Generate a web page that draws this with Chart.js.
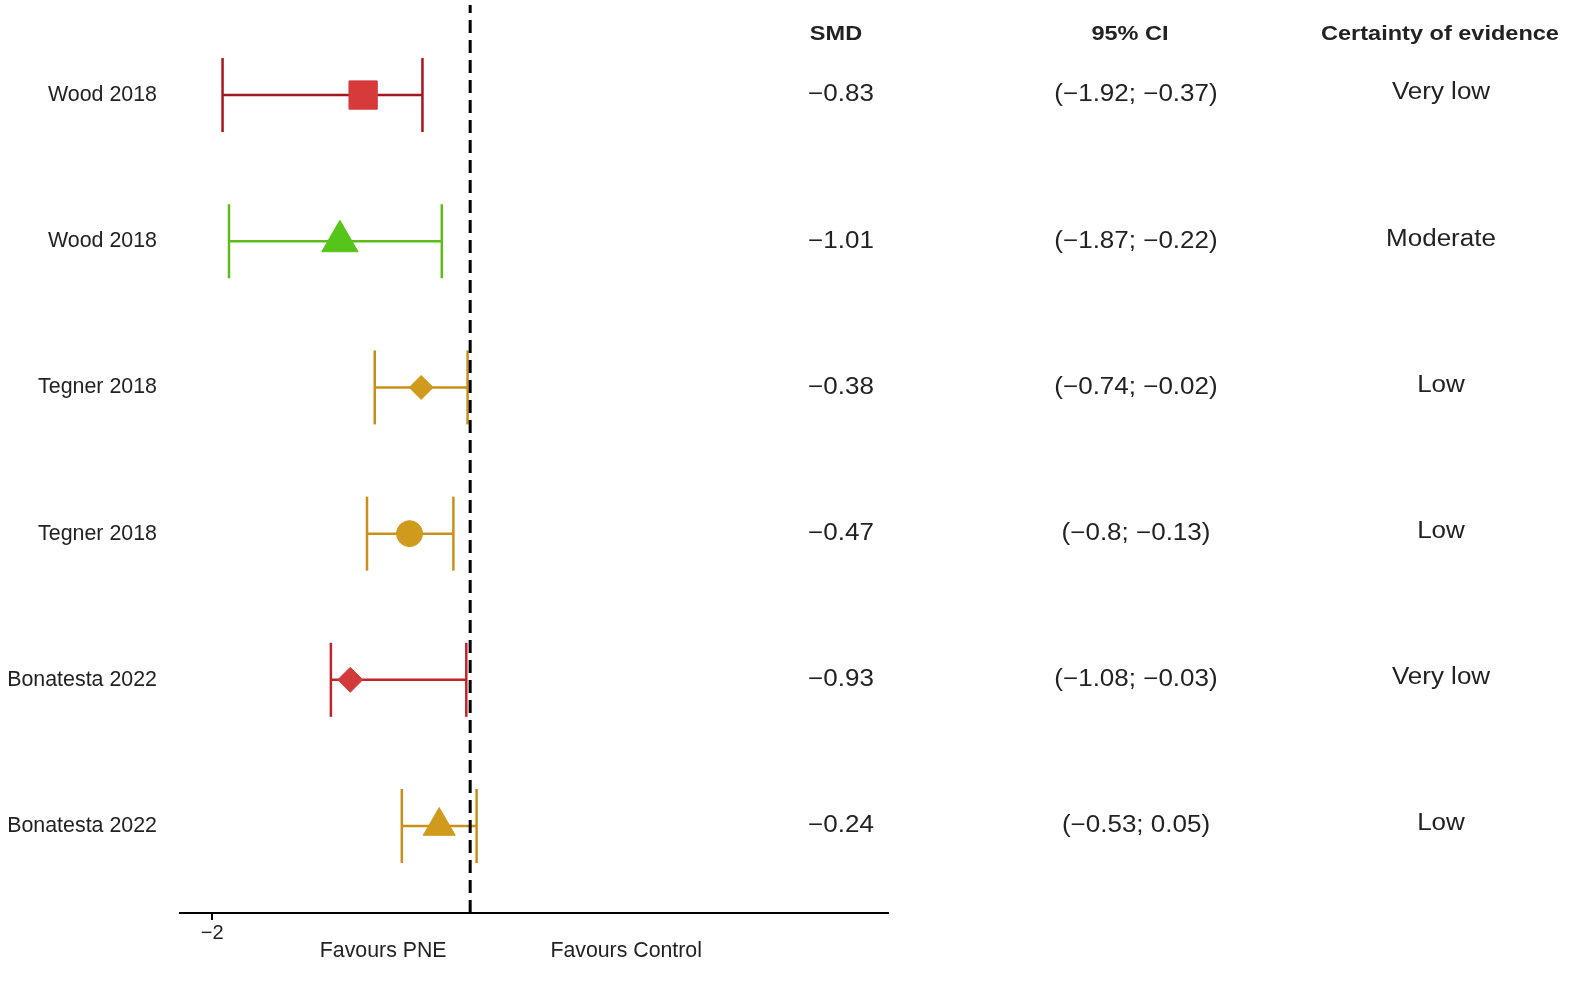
<!DOCTYPE html>
<html>
<head>
<meta charset="utf-8">
<script src="https://cdn.jsdelivr.net/npm/chart.js@4.4.1/dist/chart.umd.min.js"></script>
<style>
html,body{margin:0;padding:0;background:#fff;}
#wrap{position:relative;width:1595px;height:988px;}
</style>
</head>
<body>
<div id="wrap"><canvas id="c"></canvas></div>
<script>
// ---- data ----
const studies = ['Wood 2018','Wood 2018','Tegner 2018','Tegner 2018','Bonatesta 2022','Bonatesta 2022'];
const smd = [-0.83,-1.01,-0.38,-0.47,-0.93,-0.24];
const ciLow = [-1.92,-1.87,-0.74,-0.8,-1.08,-0.53];
const ciHigh = [-0.37,-0.22,-0.02,-0.13,-0.03,0.05];
const certainty = ['Very low','Moderate','Low','Low','Very low','Low'];
const headers = ['SMD','95% CI','Certainty of evidence'];
const xTickValues = [-2];
const sideLabels = ['Favours PNE','Favours Control'];

// ---- styles ----
const lineColors = ['#a3171e','#5cbc1c','#c98f1a','#c98f1a','#c4222a','#c98f1a'];
const fillColors = ['#d63a3a','#55c519','#d09a1c','#d09a1c','#d33a3a','#d09a1c'];
const markerStyles = ['rect','triangle','rectRot','circle','rectRot','triangle'];
const markerRadius = [20,21,12,13,12.5,18.5];
const FONT = '"Liberation Sans", Arial, sans-serif';

const nRows = studies.length;
const rowY = i => nRows - i;
const yMin = 1 - 0.595, yMax = nRows + 0.616;
const fmt = v => String(v).replace('-', '\u2212');

const datasets = [];
for (let i = 0; i < nRows; i++) {
  datasets.push({
    type: 'line',
    data: [{x: ciLow[i], y: rowY(i)}, {x: ciHigh[i], y: rowY(i)}],
    borderColor: lineColors[i],
    borderWidth: 2.5,
    pointStyle: 'line',
    pointRotation: 90,
    pointRadius: 37,
    pointBorderWidth: 2.5,
    pointBorderColor: lineColors[i],
    pointBackgroundColor: lineColors[i],
    clip: false,
    order: 3
  });
}
datasets.push({
  type: 'scatter',
  data: smd.map((v, i) => ({x: v, y: rowY(i)})),
  pointStyle: markerStyles,
  pointRadius: markerRadius,
  backgroundColor: fillColors,
  borderColor: fillColors,
  borderWidth: 1,
  clip: false,
  order: 2
});
datasets.push({
  type: 'line',
  data: [{x: 0, y: yMin}, {x: 0, y: yMax}],
  borderColor: '#000',
  borderWidth: 3,
  borderDash: [13, 7],
  pointRadius: 0,
  order: 1
});

function stretchText(ctx, s, x, y, sx) {
  ctx.save();
  ctx.translate(x, y);
  ctx.scale(sx, 1);
  ctx.fillText(s, 0, 0);
  ctx.restore();
}

const textPlugin = {
  id: 'texts',
  afterDraw(chart) {
    const ctx = chart.ctx;
    const xs = chart.scales.x, ys = chart.scales.y;
    ctx.save();
    ctx.fillStyle = '#222';
    ctx.textBaseline = 'middle';
    // row labels
    ctx.font = '21.4px ' + FONT;
    ctx.textAlign = 'right';
    studies.forEach((s, i) => ctx.fillText(s, 157, ys.getPixelForValue(rowY(i))));
    // headers
    ctx.font = 'bold 21px ' + FONT;
    ctx.textAlign = 'center';
    const colX = [836, 1130, 1440];
    headers.forEach((h, j) => stretchText(ctx, h, colX[j], 34, 1.12));
    // values
    ctx.font = '23px ' + FONT;
    const valX = [841, 1136, 1441];
    for (let i = 0; i < nRows; i++) {
      const y = ys.getPixelForValue(rowY(i));
      stretchText(ctx, fmt(smd[i]), valX[0], y, 1.13);
      stretchText(ctx, '(' + fmt(ciLow[i]) + '; ' + fmt(ciHigh[i]) + ')', valX[1], y, 1.13);
      stretchText(ctx, certainty[i], valX[2], y - 2, 1.13);
    }
    // favours labels
    ctx.font = '21.3px ' + FONT;
    const x0 = xs.getPixelForValue(0);
    ctx.fillText(sideLabels[0], x0 - 87, 951);
    ctx.fillText(sideLabels[1], x0 + 156, 951);
    ctx.restore();
  }
};

new Chart(document.getElementById('c'), {
  data: {datasets},
  options: {
    responsive: true,
    maintainAspectRatio: false,
    animation: false,
    events: [],
    layout: {autoPadding: false, padding: {left: 180, right: 707, top: 5, bottom: 0}},
    plugins: {legend: {display: false}, tooltip: {enabled: false}},
    scales: {
      x: {
        type: 'linear',
        min: -2.25,
        max: 3.24,
        afterFit: s => { s.height = 75; },
        afterBuildTicks: s => { s.ticks = xTickValues.map(v => ({value: v})); },
        border: {display: true, color: '#000', width: 2},
        grid: {display: true, drawOnChartArea: false, drawTicks: true, tickLength: 7, color: '#000', lineWidth: 2},
        ticks: {
          color: '#222',
          font: {size: 20, family: FONT},
          padding: 1,
          maxRotation: 0,
          callback: v => fmt(v)
        }
      },
      y: {
        type: 'linear',
        min: yMin,
        max: yMax,
        display: false
      }
    }
  },
  plugins: [textPlugin]
});
</script>
</body>
</html>
